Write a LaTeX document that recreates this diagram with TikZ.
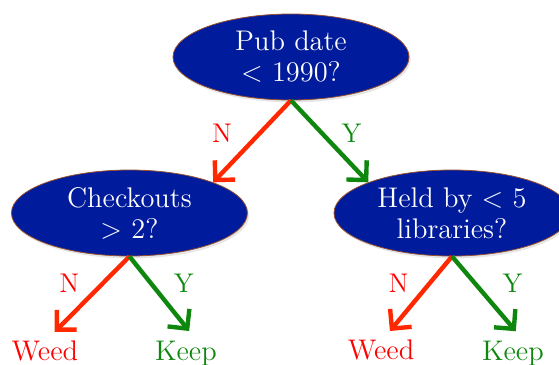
\documentclass[tikz,border=0pt]{standalone}
\usetikzlibrary{shapes.geometric,arrows.meta,shadows}
\definecolor{navy}{RGB}{0,27,155}
\definecolor{rim}{RGB}{150,80,45}
\definecolor{weedRed}{RGB}{255,40,0}
\definecolor{keepGreen}{RGB}{15,135,15}
\begin{document}
\begin{tikzpicture}[
    node/.style={%
      draw=rim,
      ellipse,
      fill=navy,
      text=white,
      align=center,
      minimum width=118pt,
      minimum height=43pt,
      inner sep=0pt,
      font=\fontsize{14.2}{15.5}\selectfont,
      drop shadow={opacity=0.2,shadow xshift=0.8pt,shadow yshift=-1.2pt},
    },
    leaf/.style={%
      anchor=base,
      inner sep=2pt,
      text height=1.6ex,
      font=\fontsize{14.2}{16}\selectfont,
    },
    no/.style={%
      draw=weedRed,
      line width=2.2pt,
      -{Straight Barb[length=7pt,width=14pt]},
    },
    yes/.style={%
      draw=keepGreen,
      line width=2.2pt,
      -{Straight Barb[length=7pt,width=14pt]},
    },
  ]
    \useasboundingbox (0,0) rectangle (279.5pt,182.5pt);
    \node [node] (pubDate) at (145.5pt,154pt) {Pub date\\ \textless{} 1990?};
    \path (pubDate) ++(224:112.3pt) node [node] (checkouts) {Checkouts\\ \textgreater{} 2?};
    \path (pubDate) ++(-44.1:112.1pt) node [node] (heldBy) {Held by \textless{} 5\\ libraries?};
    \path (checkouts) ++(-119.9:84.8pt) node [leaf, text=red] (weedLeft) {Weed};
    \path (checkouts) ++(-69:78.8pt) node [leaf, text=keepGreen] (keepLeft) {Keep};
    \path (heldBy) ++(-115.8:81.6pt) node [leaf, text=red] (weedRight) {Weed};
    \path (heldBy) ++(-67.5:79.6pt) node [leaf, text=keepGreen] (keepRight) {Keep};
    \draw [no] (pubDate.south) -- (checkouts.north east) node [midway, xshift=-15pt, yshift=4pt, text=red, font=\fontsize{13.5}{15}\selectfont] {N};
    \draw [yes] (pubDate.south) -- (heldBy.north west) node [midway, xshift=11pt, yshift=4pt, text=keepGreen, font=\fontsize{13.5}{15}\selectfont] {Y};
    \draw [no, shorten >=7pt] (checkouts.south) -- (weedLeft.north) node [midway, xshift=-9pt, yshift=8pt, text=red, font=\fontsize{13.5}{15}\selectfont] {N};
    \draw [yes, shorten >=7pt] (checkouts.south) -- ([xshift=6pt]keepLeft.north) node [midway, xshift=10pt, yshift=8pt, text=keepGreen, font=\fontsize{13.5}{15}\selectfont] {Y};
    \draw [no, shorten >=7pt] (heldBy.south) -- (weedRight.north) node [midway, xshift=-9pt, yshift=8pt, text=red, font=\fontsize{13.5}{15}\selectfont] {N};
    \draw [yes, shorten >=7pt] (heldBy.south) -- ([xshift=6pt]keepRight.north) node [midway, xshift=12pt, yshift=8pt, text=keepGreen, font=\fontsize{13.5}{15}\selectfont] {Y};
\end{tikzpicture}
\end{document}
